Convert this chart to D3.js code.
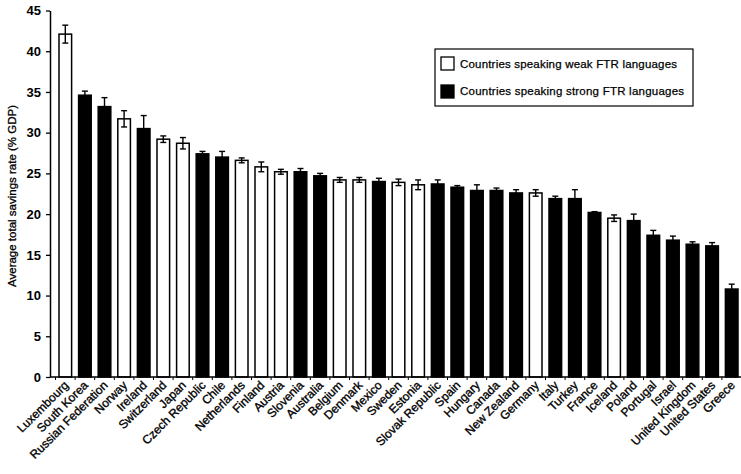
<!DOCTYPE html>
<html>
<head>
<meta charset="utf-8">
<script src="https://cdn.jsdelivr.net/npm/d3@7"></script>
<style>
  body { margin: 0; background: #fff; }
  svg { display: block; font-family: "Liberation Sans", Arial, sans-serif; }
</style>
</head>
<body>
<div id="chart"></div>
<script>
// Average total savings rate by country, grouped by FTR language strength.
const countries = ['Luxembourg', 'South Korea', 'Russian Federation', 'Norway', 'Ireland', 'Switzerland',
  'Japan', 'Czech Republic', 'Chile', 'Netherlands', 'Finland', 'Austria', 'Slovenia', 'Australia',
  'Belgium', 'Denmark', 'Mexico', 'Sweden', 'Estonia', 'Slovak Republic', 'Spain', 'Hungary', 'Canada',
  'New Zealand', 'Germany', 'Italy', 'Turkey', 'France', 'Iceland', 'Poland', 'Portugal', 'Israel',
  'United Kingdom', 'United States', 'Greece'];
const savings = [42.1, 34.6, 33.2, 31.7, 30.5, 29.2, 28.7, 27.4, 27.0, 26.6, 25.8, 25.2, 25.2, 24.7,
  24.2, 24.2, 24.0, 23.9, 23.6, 23.7, 23.3, 22.9, 22.9, 22.6, 22.6, 21.9, 21.9, 20.2, 19.5, 19.2,
  17.4, 16.8, 16.3, 16.1, 10.8];
const errors = [1.1, 0.5, 1.1, 1.0, 1.6, 0.4, 0.7, 0.3, 0.7, 0.3, 0.6, 0.3, 0.4, 0.3, 0.3, 0.3, 0.4,
  0.4, 0.6, 0.5, 0.2, 0.7, 0.3, 0.4, 0.4, 0.3, 1.1, 0.1, 0.4, 0.8, 0.6, 0.5, 0.3, 0.4, 0.6];
// 's' = strong FTR language, 'w' = weak FTR language
const ftr = ['w', 's', 's', 'w', 's', 'w', 'w', 's', 's', 'w', 'w', 'w', 's', 's', 'w', 'w', 's', 'w',
  'w', 's', 's', 's', 's', 's', 'w', 's', 's', 's', 'w', 's', 's', 's', 's', 's', 's'];
const yTicks = [0, 5, 10, 15, 20, 25, 30, 35, 40, 45];
const legendLabels = ['Countries speaking weak FTR languages', 'Countries speaking strong FTR languages'];

const width = 741, height = 474;
const svg = d3.select('#chart').append('svg').attr('width', width).attr('height', height);

const x = d3.scaleBand().domain(countries).range([55.5, 741.5]).paddingInner(0.28).paddingOuter(0.14);
const y = d3.scaleLinear().domain([0, 45]).range([377, 10.5]);

const rows = countries.map((c, i) => ({ c, v: savings[i], e: errors[i], t: ftr[i] }));

// bars
svg.append('g').selectAll('rect').data(rows).join('rect')
  .attr('x', d => x(d.c) + 0.75).attr('width', x.bandwidth() - 1.5)
  .attr('y', d => y(d.v)).attr('height', d => y(0) - y(d.v))
  .attr('fill', d => d.t === 's' ? '#000' : '#fff')
  .attr('stroke', '#000').attr('stroke-width', 1.5);

// error bars
const eb = svg.append('g').attr('stroke', '#000').attr('stroke-width', 1.4);
eb.selectAll('line.v').data(rows).join('line').attr('class', 'v')
  .attr('x1', d => x(d.c) + x.bandwidth() / 2).attr('x2', d => x(d.c) + x.bandwidth() / 2)
  .attr('y1', d => y(d.v - d.e)).attr('y2', d => y(d.v + d.e));
eb.selectAll('line.t').data(rows).join('line').attr('class', 't')
  .attr('x1', d => x(d.c) + x.bandwidth() / 2 - 3).attr('x2', d => x(d.c) + x.bandwidth() / 2 + 3)
  .attr('y1', d => y(d.v + d.e)).attr('y2', d => y(d.v + d.e));
eb.selectAll('line.b').data(rows.filter(d => d.t === 'w')).join('line').attr('class', 'b')
  .attr('x1', d => x(d.c) + x.bandwidth() / 2 - 3).attr('x2', d => x(d.c) + x.bandwidth() / 2 + 3)
  .attr('y1', d => y(d.v - d.e)).attr('y2', d => y(d.v - d.e));

// y axis
const yAxis = svg.append('g').attr('transform', 'translate(50,0)')
  .call(d3.axisLeft(y).tickValues(yTicks).tickSize(4).tickPadding(5).tickSizeOuter(0));
yAxis.select('.domain').attr('stroke-width', 1.5);
yAxis.selectAll('.tick line').attr('stroke-width', 1.3);
yAxis.selectAll('text').attr('font-size', 13).attr('font-weight', 'bold').attr('fill', '#000');

// x axis line and category ticks
svg.append('line').attr('x1', 50).attr('x2', width).attr('y1', y(0)).attr('y2', y(0))
  .attr('stroke', '#000').attr('stroke-width', 1.5);
svg.append('g').selectAll('line').data(countries).join('line')
  .attr('x1', d => x(d) - x.step() * x.paddingInner() / 2).attr('x2', d => x(d) - x.step() * x.paddingInner() / 2)
  .attr('y1', y(0)).attr('y2', y(0) + 3).attr('stroke', '#000').attr('stroke-width', 1);

// x labels
svg.append('g').selectAll('text').data(countries).join('text')
  .attr('transform', d => `translate(${x(d) + x.bandwidth() / 2 - 2},${y(0) + 3}) rotate(-45)`)
  .attr('text-anchor', 'end').attr('dy', '0.7em')
  .attr('font-size', 12).attr('fill', '#000').attr('stroke', '#000').attr('stroke-width', 0.35)
  .text(d => d);

// y label
svg.append('text')
  .attr('transform', 'translate(16,196) rotate(-90)')
  .attr('text-anchor', 'middle').attr('font-size', 11.5)
  .attr('fill', '#000').attr('stroke', '#000').attr('stroke-width', 0.3)
  .text('Average total savings rate (% GDP)');

// legend
const lg = svg.append('g');
lg.append('rect').attr('x', 435).attr('y', 49).attr('width', 258).attr('height', 57)
  .attr('fill', '#fff').attr('stroke', '#000').attr('stroke-width', 1.2);
lg.selectAll('rect.sw').data(legendLabels).join('rect').attr('class', 'sw')
  .attr('x', 441).attr('y', (d, i) => 57 + i * 28).attr('width', 13).attr('height', 13)
  .attr('fill', (d, i) => i ? '#000' : '#fff').attr('stroke', '#000').attr('stroke-width', 1.3);
lg.selectAll('text').data(legendLabels).join('text')
  .attr('x', 460).attr('y', (d, i) => 68 + i * 27)
  .attr('font-size', 11.5).attr('fill', '#000').attr('stroke', '#000').attr('stroke-width', 0.25)
  .attr('textLength', (d, i) => i ? 224 : 217)
  .text(d => d);
</script>
</body>
</html>
